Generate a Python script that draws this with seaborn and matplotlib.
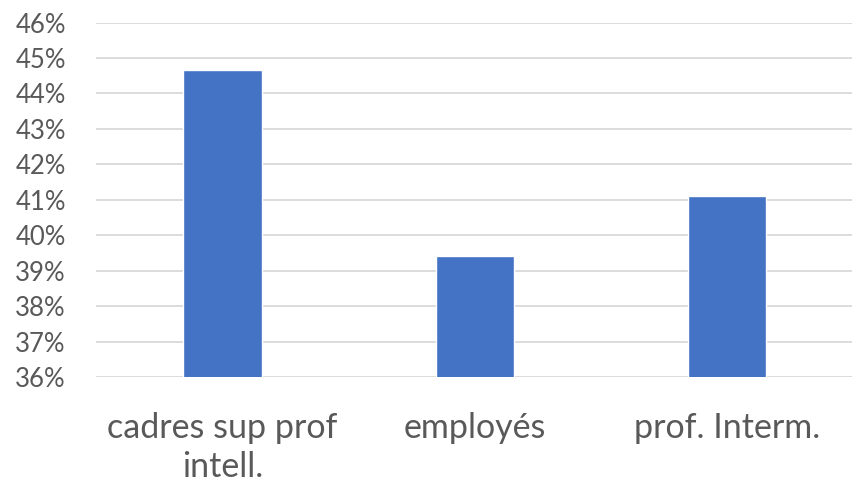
import matplotlib
matplotlib.use("Agg")
import matplotlib.pyplot as plt
import seaborn as sns
import pandas as pd

# Data
categories = ["cadres sup prof\nintell.", "employés", "prof. Interm."]
values = [44.65, 39.42, 41.11]
yticks = list(range(36, 47))

df = pd.DataFrame({"cat": categories, "val": values})

sns.set_style("white")
plt.rcParams["font.family"] = ["Lato", "DejaVu Sans"]

fig = plt.figure(figsize=(8.53, 4.84), dpi=100)
ax = fig.add_axes([0.113, 0.221, 0.887, 0.7325])

sns.barplot(data=df, x="cat", y="val", color="#4472C4", saturation=1,
            width=0.31, ax=ax, zorder=3)

ax.set_ylim(36, 46)
ax.set_yticks(yticks)
ax.set_yticklabels([f"{t}%" for t in yticks], fontsize=18.5, color="#595959")
ax.yaxis.grid(True, color="#d9d9d9", linewidth=1.3, zorder=0)
ax.set_xlim(-0.5, 2.5)
ax.tick_params(axis="x", labelsize=24.5, labelcolor="#595959", length=0, pad=25)
for lbl in ax.get_xticklabels():
    lbl.set_linespacing(1.27)
ax.tick_params(axis="y", length=0, pad=22)
for s in ax.spines.values():
    s.set_visible(False)
ax.set_xlabel("")
ax.set_ylabel("")

fig.savefig("out.png", dpi=100)
